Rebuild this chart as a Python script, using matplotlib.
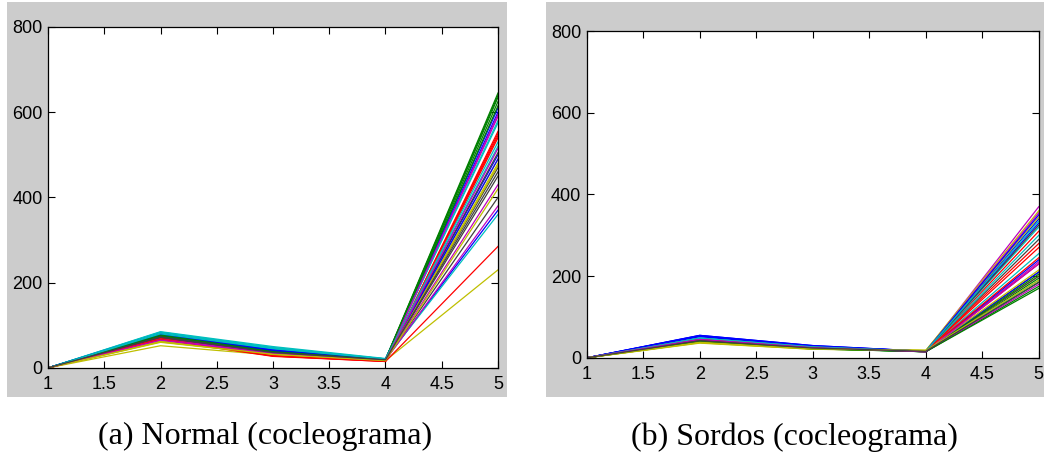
import numpy as np
import matplotlib.pyplot as plt
from matplotlib.patches import Rectangle

# MATLAB-style default colour order (b, g, r, c, m, y, k)
matlab_cycle = ["#0000ff", "#008000", "#ff0000", "#00bfbf", "#bf00bf", "#bfbf00", "#404040"]

x = [1, 2, 3, 4, 5]

# cochleogram features, normal-hearing subjects (one row per subject)
normal = [
    [0, 82, 45, 21, 600], [0, 78, 40, 20, 645], [0, 70, 28, 16, 550], [0, 85, 50, 22, 575],
    [0, 68, 35, 18, 590], [0, 52, 30, 17, 230], [0, 72, 36, 19, 450],
    [0, 80, 42, 20, 370], [0, 75, 38, 19, 635], [0, 66, 27, 15, 285], [0, 83, 48, 21, 360],
    [0, 64, 33, 18, 430], [0, 60, 32, 17, 480], [0, 70, 34, 19, 400],
    [0, 79, 41, 20, 500], [0, 74, 37, 19, 625], [0, 68, 30, 16, 540], [0, 84, 47, 21, 520],
    [0, 66, 34, 18, 380], [0, 63, 33, 17, 420], [0, 71, 35, 19, 470],
    [0, 81, 43, 20, 610], [0, 76, 39, 19, 615], [0, 69, 29, 16, 545], [0, 82, 46, 21, 580],
    [0, 67, 35, 18, 595], [0, 62, 31, 17, 490], [0, 73, 37, 19, 505],
    [0, 78, 40, 20, 490], [0, 77, 38, 19, 640], [0, 67, 28, 15, 555], [0, 80, 45, 21, 530],
    [0, 65, 34, 18, 515], [0, 61, 32, 17, 475], [0, 72, 36, 19, 460],
]

# cochleogram features, deaf subjects
sordos = [
    [0, 55, 30, 16, 340], [0, 38, 22, 15, 175], [0, 45, 25, 16, 310], [0, 48, 27, 16, 320],
    [0, 47, 26, 15, 370], [0, 36, 21, 18, 360], [0, 44, 25, 16, 290],
    [0, 53, 28, 16, 330], [0, 40, 23, 15, 185], [0, 46, 26, 16, 280], [0, 47, 26, 16, 255],
    [0, 45, 25, 15, 235], [0, 38, 22, 18, 200], [0, 42, 24, 16, 210],
    [0, 54, 29, 16, 240], [0, 42, 23, 15, 195], [0, 46, 26, 16, 230], [0, 49, 27, 16, 190],
    [0, 44, 25, 15, 180], [0, 37, 21, 18, 345], [0, 43, 24, 16, 200],
    [0, 52, 28, 16, 210], [0, 41, 22, 15, 205], [0, 45, 25, 16, 245], [0, 48, 27, 16, 300],
    [0, 46, 26, 15, 355], [0, 39, 22, 18, 215], [0, 43, 24, 16, 325],
    [0, 55, 30, 16, 350], [0, 40, 23, 15, 170], [0, 47, 26, 16, 270], [0, 48, 27, 16, 335],
    [0, 45, 25, 15, 230], [0, 38, 22, 18, 190], [0, 42, 24, 16, 185],
]

captions = ["(a) Normal (cocleograma)", "(b) Sordos (cocleograma)"]

tick_font = ["Liberation Sans Narrow", "Liberation Sans", "DejaVu Sans"]

fig = plt.figure(figsize=(10.44, 4.57), dpi=100)
fig.patch.set_facecolor("white")

# grey MATLAB figure backgrounds
for x0, w in [(0.0067, 0.479), (0.523, 0.477)]:
    fig.patches.append(Rectangle((x0, 0.131), w, 0.865, transform=fig.transFigure,
                                 facecolor="#cccccc", edgecolor="none", zorder=-10))

axes_pos = [[0.046, 0.195, 0.431, 0.746], [0.562, 0.217, 0.433, 0.715]]
cap_x = [0.254, 0.761]

for pos, data, cap, cx in zip(axes_pos, [normal, sordos], captions, cap_x):
    ax = fig.add_axes(pos)
    ax.set_zorder(5)
    for i, row in enumerate(data):
        ax.plot(x, row, color=matlab_cycle[i % 7], lw=0.9)
    ax.set_xlim(1, 5)
    ax.set_ylim(0, 800)
    ax.set_xticks(np.arange(1, 5.01, 0.5))
    ax.set_xticklabels(["1", "1.5", "2", "2.5", "3", "3.5", "4", "4.5", "5"])
    ax.set_yticks([0, 200, 400, 600, 800])
    ax.tick_params(direction="in", length=5, width=0.8, top=True, right=True,
                   labelsize=13)
    ax.tick_params(axis="x", pad=6)
    ax.tick_params(axis="y", pad=4)
    for lab in ax.get_xticklabels() + ax.get_yticklabels():
        lab.set_family(tick_font)
    for sp in ax.spines.values():
        sp.set_linewidth(0.9)
    fig.text(cx, 0.044, cap, ha="center", va="center", fontsize=23,
             family=["Liberation Serif", "DejaVu Serif"])

fig.savefig("out.png", dpi=100)
